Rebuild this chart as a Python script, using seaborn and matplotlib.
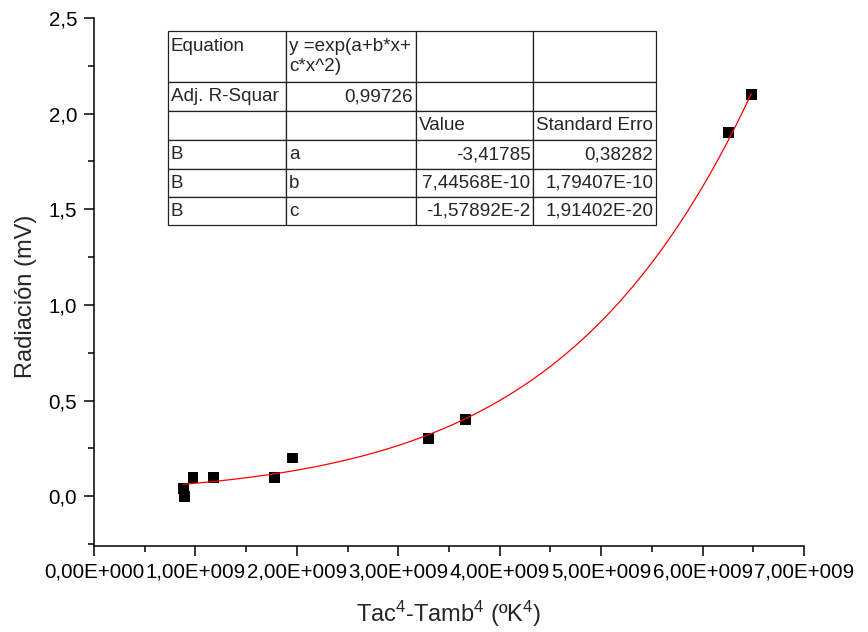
import numpy as np
import pandas as pd
import matplotlib
matplotlib.use("Agg")
import matplotlib.pyplot as plt
import seaborn as sns
from matplotlib.ticker import FixedLocator, MultipleLocator

# ---- data ----
x_vals = [0.878e9, 0.890e9, 0.976e9, 1.174e9, 1.775e9, 1.956e9, 3.30e9, 3.66e9, 6.255e9, 6.48e9]
y_vals = [0.04, 0.0, 0.1, 0.1, 0.1, 0.2, 0.3, 0.4, 1.9, 2.1]

# fitted parameters (from the table): y = exp(a + b*x + c*x^2)
fit_a = -3.41785
fit_b = 7.44568e-10
fit_c = -1.57892e-20

x_ticks = [0, 1e9, 2e9, 3e9, 4e9, 5e9, 6e9, 7e9]
x_tick_labels = ["0,00E+000", "1,00E+009", "2,00E+009", "3,00E+009",
                 "4,00E+009", "5,00E+009", "6,00E+009", "7,00E+009"]
y_ticks = [0.0, 0.5, 1.0, 1.5, 2.0, 2.5]
y_tick_labels = ["0,0", "0,5", "1,0", "1,5", "2,0", "2,5"]

table_rows = [
    ["Equation\n", "y =exp(a+b*x+\nc*x^2)", "", ""],
    ["Adj. R-Squar", "0,99726", "", ""],
    ["", "", "Value", "Standard Erro"],
    ["B", "a", "-3,41785", "0,38282"],
    ["B", "b", "7,44568E-10", "1,79407E-10"],
    ["B", "c", "-1,57892E-2", "1,91402E-20"],
]
right_cells = {(1, 1), (3, 2), (4, 2), (5, 2), (3, 3), (4, 3), (5, 3)}

# ---- style ----
sns.set_style("ticks")
plt.rcParams["font.family"] = ["Liberation Sans", "DejaVu Sans"]
plt.rcParams["mathtext.fontset"] = "custom"
plt.rcParams["mathtext.rm"] = "Liberation Sans"
plt.rcParams["mathtext.it"] = "Liberation Sans:italic"
plt.rcParams["mathtext.bf"] = "Liberation Sans:bold"

fig = plt.figure(figsize=(8.68, 6.32), dpi=100)
ax = fig.add_axes([94 / 868, 86 / 632, 710 / 868, 528 / 632])

df = pd.DataFrame({"x": x_vals, "y": y_vals})
sns.scatterplot(data=df, x="x", y="y", marker="s", s=62, color="black",
                edgecolor="none", linewidth=0, ax=ax, zorder=2, legend=False)

fit_x = np.linspace(min(x_vals), max(x_vals), 300)
fit_y = np.exp(fit_a + fit_b * fit_x + fit_c * fit_x ** 2)
sns.lineplot(x=fit_x, y=fit_y, color="red", linewidth=0.9, ax=ax,
             sort=False, estimator=None, zorder=3)

ax.set_xlim(0, 7e9)
ax.set_ylim(-0.26, 2.5)
ax.xaxis.set_major_locator(FixedLocator(x_ticks))
ax.set_xticklabels(x_tick_labels)
ax.yaxis.set_major_locator(FixedLocator(y_ticks))
ax.set_yticklabels(y_tick_labels)
ax.xaxis.set_minor_locator(MultipleLocator(0.5e9))
ax.yaxis.set_minor_locator(MultipleLocator(0.25))

for s in ["top", "right"]:
    ax.spines[s].set_visible(False)
for s in ["left", "bottom"]:
    ax.spines[s].set_linewidth(1.1)
    ax.spines[s].set_color("black")

ax.tick_params(which="major", direction="out", length=7, width=1.1,
               labelsize=14.8, pad=5, colors="black")
ax.tick_params(which="minor", direction="out", length=4, width=1.1, colors="black")

ax.set_xlabel(r"Tac$^{4}$-Tamb$^{4}$ (ºK$^{4}$)", fontsize=17)
ax.set_ylabel("Radiación (mV)", fontsize=17)
ax.xaxis.set_label_coords(0.5, -0.100)
ax.yaxis.set_label_coords(-0.080, 0.4735)

# ---- fit results table ----
col_w = [118, 130, 117, 123]
tot = sum(col_w)
tbl = ax.table(cellText=table_rows, cellLoc="left",
               colWidths=[w / tot for w in col_w],
               bbox=[(168 - 94) / 710, (546 - 225) / 528,
                     (656 - 168) / 710, (225 - 31) / 528],
               zorder=4)
tbl.auto_set_font_size(False)
tbl.set_fontsize(13.6)
row_h = [51, 29, 29, 29, 28, 28]
for (r, c), cell in tbl.get_celld().items():
    cell.set_height(row_h[r])
    cell.set_linewidth(0.9)
    cell.set_edgecolor("#222222")
    cell.set_facecolor("white")
    cell.PAD = 0.022
    if (r, c) in right_cells:
        cell.set_text_props(ha="right")

fig.savefig("out.png", dpi=100)
